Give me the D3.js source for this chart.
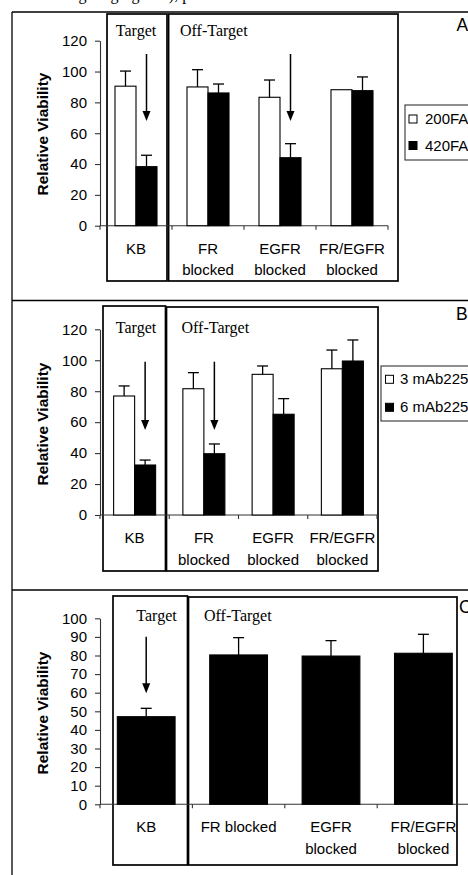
<!DOCTYPE html>
<html>
<head>
<meta charset="utf-8">
<script src="https://cdn.jsdelivr.net/npm/d3@7"></script>
<style>
  html, body { margin: 0; padding: 0; background: #fff; }
  svg { display: block; }
  text { font-family: Arial, "Liberation Sans", sans-serif; fill: #000; }
  .serif { font-family: "Times New Roman", "Liberation Serif", serif; }
</style>
</head>
<body>
<svg id="chart" width="468" height="875"></svg>
<script>
// ---------------- DATA ----------------
const categories = ["KB", "FR blocked", "EGFR blocked", "FR/EGFR blocked"];
const catLinesAB = [["KB"], ["FR", "blocked"], ["EGFR", "blocked"], ["FR/EGFR", "blocked"]];
const catLinesC = [["KB"], ["FR blocked"], ["EGFR", "blocked"], ["FR/EGFR", "blocked"]];
const ticksAB = [0, 20, 40, 60, 80, 100, 120];
const ticksC = [0, 10, 20, 30, 40, 50, 60, 70, 80, 90, 100];

const seriesA = ["200FA", "420FA"];
const a200 = [90.5, 90.0, 83.3, 88.2];
const a200Err = [9.8, 11.2, 11.2, 0];
const a420 = [38.3, 86.1, 44.1, 87.6];
const a420Err = [7.4, 5.8, 9.1, 8.9];

const seriesB = ["3 mAb225", "6 mAb225"];
const b3 = [76.9, 81.6, 90.9, 94.5];
const b3Err = [6.5, 10.4, 5.4, 12.1];
const b6 = [32.3, 39.6, 65.1, 99.5];
const b6Err = [3.2, 6.3, 10.1, 13.6];

const cVal = [47.1, 80.3, 79.7, 81.2];
const cErr = [4.5, 9.3, 8.3, 10.2];

const panelLabels = ["A", "B", "C"];
const arrowsA = ["KB", "EGFR blocked"];
const arrowsB = ["KB", "FR blocked"];
const arrowsC = ["KB"];

// ---------------- DRAW ----------------
const svg = d3.select("#chart");

// partial caption text at very top (cut off in the original figure)
svg.append("text").attr("class", "serif").attr("x", 62).attr("y", 0)
  .attr("font-size", 16).text("targeting ligands), p");

// outer frame
const frame = svg.append("g").attr("stroke", "#000").attr("stroke-width", 1.3);
frame.append("line").attr("x1", 12).attr("x2", 12).attr("y1", 12).attr("y2", 875);
frame.append("line").attr("x1", 12).attr("x2", 468).attr("y1", 12).attr("y2", 12);
frame.append("line").attr("x1", 12).attr("x2", 468).attr("y1", 300.5).attr("y2", 300.5);
frame.append("line").attr("x1", 12).attr("x2", 468).attr("y1", 590).attr("y2", 590);

function drawPanel(cfg) {
  const g = svg.append("g");
  const x = d3.scaleBand().domain(categories).range([cfg.xStart, cfg.xEnd]).paddingInner(0).paddingOuter(0);
  const y = d3.scaleLinear().domain([0, cfg.yMax]).range([cfg.yBase, cfg.yTop]);
  const x1 = d3.scaleBand().domain(cfg.series.map(s => s.name)).range([0, x.bandwidth()])
    .paddingInner(0).paddingOuter(cfg.outerPad);

  // Target / Off-Target boxes
  const bx = g.append("g").attr("fill", "none").attr("stroke", "#000").attr("stroke-width", 1.7);
  bx.append("rect").attr("x", cfg.tBox[0]).attr("y", cfg.tBox[1])
    .attr("width", cfg.tBox[2] - cfg.tBox[0]).attr("height", cfg.tBox[3] - cfg.tBox[1]);
  bx.append("rect").attr("x", cfg.oBox[0]).attr("y", cfg.oBox[1])
    .attr("width", cfg.oBox[2] - cfg.oBox[0]).attr("height", cfg.oBox[3] - cfg.oBox[1]);

  g.append("text").attr("class", "serif").attr("font-size", 16)
    .attr("x", cfg.targetX).attr("y", cfg.targetY).attr("text-anchor", "middle").text("Target");
  g.append("text").attr("class", "serif").attr("font-size", 16)
    .attr("x", cfg.offX).attr("y", cfg.targetY).text("Off-Target");

  // y axis
  const yAx = g.append("g").attr("transform", `translate(${cfg.xStart},0)`)
    .call(d3.axisLeft(y).tickValues(cfg.ticks).tickSize(5).tickSizeOuter(0).tickPadding(8));
  yAx.selectAll("path, line").attr("stroke", "#333").attr("stroke-width", 1.1);
  yAx.selectAll("text").attr("font-size", 15).attr("font-family", "Arial, 'Liberation Sans', sans-serif")
    .attr("fill", "#000");

  // x axis
  const xAx = g.append("g").attr("stroke", "#333").attr("stroke-width", 1.1);
  xAx.append("line").attr("x1", cfg.xStart).attr("x2", cfg.xAxisEnd)
    .attr("y1", y(0)).attr("y2", y(0));
  const bounds = categories.map(c => x(c)).concat([cfg.xEnd]);
  xAx.selectAll("line.tk").data(bounds).join("line").attr("class", "tk")
    .attr("x1", d => d).attr("x2", d => d).attr("y1", y(0)).attr("y2", y(0) + 4);

  // bars
  cfg.series.forEach(s => {
    const sg = g.append("g");
    categories.forEach((c, i) => {
      const bxp = x(c) + x1(s.name);
      sg.append("rect").attr("x", bxp).attr("y", y(s.values[i]))
        .attr("width", x1.bandwidth()).attr("height", y(0) - y(s.values[i]))
        .attr("fill", s.fill).attr("stroke", "#000").attr("stroke-width", 1.1);
      if (s.err[i] > 0) {
        const cx = bxp + x1.bandwidth() / 2;
        const top = y(s.values[i] + s.err[i]);
        sg.append("line").attr("x1", cx).attr("x2", cx).attr("y1", y(s.values[i])).attr("y2", top)
          .attr("stroke", "#000").attr("stroke-width", 1.3);
        sg.append("line").attr("x1", cx - 5.5).attr("x2", cx + 5.5).attr("y1", top).attr("y2", top)
          .attr("stroke", "#000").attr("stroke-width", 1.3);
      }
    });
  });

  // category labels
  categories.forEach((c, i) => {
    const cx = x(c) + x.bandwidth() / 2;
    cfg.catLines[i].forEach((ln, j) => {
      g.append("text").attr("x", cx).attr("y", y(0) + 28 + j * 21.5)
        .attr("text-anchor", "middle").attr("font-size", 15).text(ln);
    });
  });

  // arrows pointing to the last series bar
  const last = cfg.series[cfg.series.length - 1].name;
  cfg.arrows.forEach(c => {
    const ax = x(c) + x1(last) + x1.bandwidth() / 2;
    g.append("line").attr("x1", ax).attr("x2", ax).attr("y1", cfg.arrowY[0]).attr("y2", cfg.arrowY[1] - 8)
      .attr("stroke", "#000").attr("stroke-width", 1.5);
    g.append("path")
      .attr("d", `M${ax - 4},${cfg.arrowY[1] - 10} L${ax + 4},${cfg.arrowY[1] - 10} L${ax},${cfg.arrowY[1]} Z`)
      .attr("fill", "#000");
  });

  // y title
  g.append("text").attr("transform", `translate(48,${cfg.titleY}) rotate(-90)`)
    .attr("text-anchor", "middle").attr("font-size", 15.5).attr("font-weight", "bold")
    .text("Relative Viability");

  // legend
  if (cfg.legend) {
    const L = cfg.legend;
    const lg = g.append("g");
    lg.append("rect").attr("x", L.box[0]).attr("y", L.box[1])
      .attr("width", L.box[2] - L.box[0]).attr("height", L.box[3] - L.box[1])
      .attr("fill", "#fff").attr("stroke", "#333").attr("stroke-width", 1.1);
    cfg.series.forEach((s, i) => {
      const by = L.rows[i];
      lg.append("rect").attr("x", L.sqX).attr("y", by - 9).attr("width", 8).attr("height", 8)
        .attr("fill", s.fill).attr("stroke", "#000").attr("stroke-width", 1);
      lg.append("text").attr("x", L.txtX).attr("y", by).attr("font-size", 15).text(s.name);
    });
  }

  // panel letter
  g.append("text").attr("x", cfg.letterX).attr("y", cfg.letterY).attr("font-size", 17.5).text(cfg.letter);
}

drawPanel({
  letter: panelLabels[0], letterX: 456.5, letterY: 30.7,
  xStart: 100, xEnd: 388, xAxisEnd: 388, yBase: 225.7, yTop: 40.7, yMax: 120, ticks: ticksAB,
  outerPad: 0.714, catLines: catLinesAB,
  series: [
    { name: seriesA[0], values: a200, err: a200Err, fill: "#fff" },
    { name: seriesA[1], values: a420, err: a420Err, fill: "#000" }
  ],
  tBox: [107, 14, 167, 281], oBox: [168.6, 14, 398, 281],
  targetX: 136, offX: 180, targetY: 36,
  arrows: arrowsA, arrowY: [54, 121],
  titleY: 134,
  legend: { box: [405, 105, 472, 160], sqX: 409, txtX: 425, rows: [124, 150.5] }
});

drawPanel({
  letter: panelLabels[1], letterX: 456, letterY: 320,
  xStart: 100, xEnd: 377, xAxisEnd: 377, yBase: 515, yTop: 329.3, yMax: 120, ticks: ticksAB,
  outerPad: 0.649, catLines: catLinesAB,
  series: [
    { name: seriesB[0], values: b3, err: b3Err, fill: "#fff" },
    { name: seriesB[1], values: b6, err: b6Err, fill: "#000" }
  ],
  tBox: [103, 306, 165.5, 571], oBox: [166.5, 307, 378, 571],
  targetX: 136, offX: 181.5, targetY: 333,
  arrows: arrowsB, arrowY: [361.7, 430],
  titleY: 424,
  legend: { box: [381, 366, 472, 421], sqX: 385.5, txtX: 400, rows: [384.3, 412.3] }
});

drawPanel({
  letter: panelLabels[2], letterX: 459, letterY: 613.3,
  xStart: 100, xEnd: 469.6, xAxisEnd: 469.6, yBase: 804.3, yTop: 618.3, yMax: 100, ticks: ticksC,
  outerPad: 0.3, catLines: catLinesC,
  series: [
    { name: "Relative Viability", values: cVal, err: cErr, fill: "#000" }
  ],
  tBox: [113, 596, 187.5, 865], oBox: [188.5, 597, 457, 865],
  targetX: 156.5, offX: 204, targetY: 621,
  arrows: arrowsC, arrowY: [636.7, 693.3],
  titleY: 713,
  legend: null
});
</script>
</body>
</html>
